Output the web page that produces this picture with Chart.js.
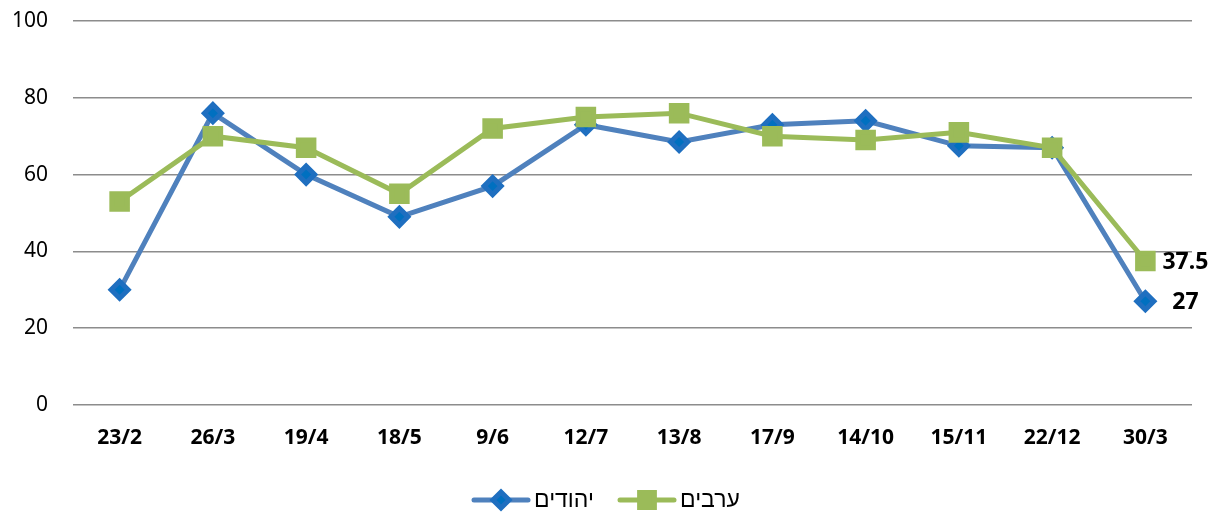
<!DOCTYPE html>
<html lang="he">
<head>
<meta charset="utf-8">
<script src="https://cdn.jsdelivr.net/npm/chart.js@4.4.1/dist/chart.umd.min.js"></script>
<style>
  html, body { margin: 0; padding: 0; background: #fff; }
  #wrap { width: 1217px; height: 513px; position: relative; }
</style>
</head>
<body>
<div id="wrap"><canvas id="chart" width="1217" height="513"></canvas></div>
<script>
const labels = ['23/2', '26/3', '19/4', '18/5', '9/6', '12/7', '13/8', '17/9', '14/10', '15/11', '22/12', '30/3'];
const jews = [30, 76, 60, 49, 57, 73, 68.5, 73, 74, 67.5, 67, 27];
const arabs = [53, 70, 67, 55, 72, 75, 76, 70, 69, 71, 67, 37.5];
const yTicks = [0, 20, 40, 60, 80, 100];

const FONT = '"Noto Sans", "Liberation Sans", sans-serif';

// value labels on the last point of each series
const lastLabels = {
  id: 'lastLabels',
  afterDatasetsDraw(chart) {
    const { ctx } = chart;
    ctx.save();
    ctx.font = `bold 23px ${FONT}`;
    ctx.fillStyle = '#000';
    ctx.textAlign = 'center';
    ctx.textBaseline = 'middle';
    chart.data.datasets.forEach((ds, i) => {
      const meta = chart.getDatasetMeta(i);
      const pt = meta.data[meta.data.length - 1];
      ctx.fillText(String(ds.data[ds.data.length - 1]), pt.x + 40, pt.y + 1);
    });
    ctx.restore();
  },
};

// legend drawn as line + marker, like the original
const lineLegend = {
  id: 'lineLegend',
  afterDraw(chart) {
    const { ctx } = chart;
    const y = 500;
    const items = [
      { ds: chart.data.datasets[0], x: 474 },
      { ds: chart.data.datasets[1], x: 620 },
    ];
    ctx.save();
    ctx.font = `23px ${FONT}`;
    ctx.textBaseline = 'middle';
    items.forEach(({ ds, x }) => {
      ctx.strokeStyle = ds.borderColor;
      ctx.lineWidth = 5;
      ctx.lineCap = 'round';
      ctx.beginPath();
      ctx.moveTo(x, y);
      ctx.lineTo(x + 54, y);
      ctx.stroke();
      ctx.fillStyle = ds.pointBackgroundColor;
      ctx.strokeStyle = ds.pointBorderColor;
      Chart.helpers.drawPoint(ctx, {
        pointStyle: ds.pointStyle,
        radius: ds.pointRadius * 0.95,
        borderWidth: 1,
      }, x + 27, y);
      ctx.fillStyle = '#000';
      ctx.direction = 'rtl';
      ctx.textAlign = 'right';
      const w = ctx.measureText(ds.label).width;
      ctx.fillText(ds.label, x + 60 + w, y);
      ctx.direction = 'ltr';
    });
    ctx.restore();
  },
};

new Chart(document.getElementById('chart'), {
  type: 'line',
  data: {
    labels,
    datasets: [
      {
        label: 'יהודים',
        data: jews,
        order: 1,
        borderColor: '#4F81BD',
        backgroundColor: '#0070C0',
        pointBackgroundColor: '#0070C0',
        pointBorderColor: '#1F6FC0',
        pointStyle: 'rectRot',
        pointRadius: 8.5,
        pointHoverRadius: 8.5,
        borderWidth: 5,
        tension: 0,
      },
      {
        label: 'ערבים',
        data: arabs,
        order: 0,
        borderColor: '#9BBB59',
        backgroundColor: '#9BBB59',
        pointBackgroundColor: '#9BBB59',
        pointBorderColor: '#9BBB59',
        pointStyle: 'rect',
        pointRadius: 11,
        pointHoverRadius: 11,
        borderWidth: 5,
        tension: 0,
      },
    ],
  },
  options: {
    responsive: false,
    animation: false,
    events: [],
    layout: { padding: { top: 21, right: 25, left: 0, bottom: 0 } },
    plugins: { legend: { display: false }, tooltip: { enabled: false } },
    scales: {
      x: {
        offset: true,
        grid: { display: false, drawTicks: false },
        border: { display: false },
        ticks: { color: '#000', padding: 20, font: { family: FONT, size: 21, weight: 'bold' }, maxRotation: 0 },
        afterFit(scale) { scale.height = 108; },
      },
      y: {
        min: 0,
        max: 100,
        afterBuildTicks(scale) { scale.ticks = yTicks.map((v) => ({ value: v })); },
        grid: { color: '#8c8c8c', lineWidth: 1.5, drawTicks: false },
        border: { display: false },
        ticks: { color: '#000', padding: 25, font: { family: FONT, size: 21 } },
        afterFit(scale) {
          scale.width = 73;
          scale.paddingTop = 0;
          scale.paddingBottom = 0;
        },
      },
    },
  },
  plugins: [lastLabels, lineLegend],
});
</script>
</body>
</html>
